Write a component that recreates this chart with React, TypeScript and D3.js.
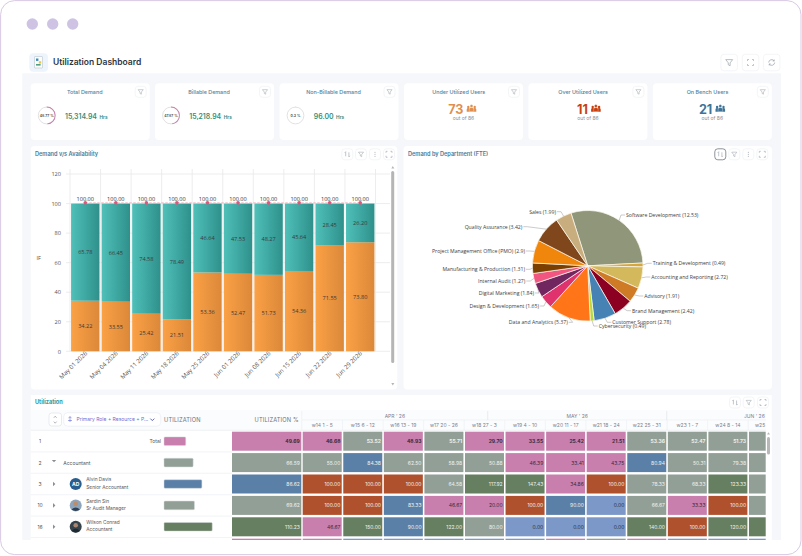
import { useEffect, useRef } from "react";
import {
  arc,
  axisBottom,
  axisLeft,
  line,
  pie,
  scaleBand,
  scaleLinear,
  scaleOrdinal,
  scaleThreshold,
  select,
} from "d3";

// bar chart
const periods = [
  "May 01 2026",
  "May 04 2026",
  "May 11 2026",
  "May 18 2026",
  "May 25 2026",
  "Jun 01 2026",
  "Jun 08 2026",
  "Jun 15 2026",
  "Jun 22 2026",
  "Jun 29 2026",
];
const demand = [34.22, 33.55, 25.42, 21.51, 53.36, 52.47, 51.73, 54.36, 71.55, 73.8];
const availability = [65.78, 66.45, 74.58, 78.49, 46.64, 47.53, 48.27, 45.64, 28.45, 26.2];
const totals = [100, 100, 100, 100, 100, 100, 100, 100, 100, 100];
const yTicks = [0, 20, 40, 60, 80, 100, 120];

// pie chart
const departments = [
  "Software Development",
  "Training & Development",
  "Accounting and Reporting",
  "Advisory",
  "Brand Management",
  "Customer Support",
  "Cybersecurity",
  "Data and Analytics",
  "Design & Development",
  "Digital Marketing",
  "Internal Audit",
  "Manufacturing & Production",
  "Project Management Office (PMO)",
  "Quality Assurance",
  "Sales",
];
const fte = [12.53, 0.49, 2.72, 1.91, 2.42, 2.78, 0.49, 5.37, 1.65, 1.84, 1.27, 1.31, 2.9, 3.42, 1.99];
const deptColors = [
  "#8f9679", "#d6a63c", "#d4b85c", "#cf7a24", "#8c0021",
  "#4682b4", "#b8d93a", "#ff7518", "#e0336e", "#722660",
  "#f0567f", "#7b3f00", "#f0860c", "#80471c", "#c8ad7f",
];

// kpi cards
const kpiTitles = ["Total Demand", "Billable Demand", "Non-Billable Demand"];
const kpiHours = ["15,314.94", "15,218.94", "96.00"];
const kpiPercent = [48.77, 47.87, 0.3];
const userTitles = ["Under Utilized Users", "Over Utilized Users", "On Bench Users"];
const userCounts = [73, 11, 21];
const userColors = ["#e08f4f", "#c8400f", "#3f7499"];

// utilization table
const weeks = [
  "w14 1 - 5", "w15 6 - 12", "w16 13 - 19", "w17 20 - 26", "w18 27 - 3", "w19 4 - 10",
  "w20 11 - 17", "w21 18 - 24", "w22 25 - 31", "w23 1 - 7", "w24 8 - 14", "w25 15 - 21",
];
const months = ["APR ' 26", "MAY ' 26", "JUN ' 26"];
const rowNumbers = ["1", "2", "3", "10", "16", ""];
const overall = [49.69, 66.59, 86.62, 69.62, 110.23, 40];
const totalWeeks = [46.68, 53.52, 48.93, 55.71, 29.7, 33.55, 25.42, 21.51, 53.36, 52.47, 51.73, 54.36];
const accountantWeeks = [55, 84.38, 62.5, 58.98, 50.88, 46.39, 33.41, 43.75, 80.94, 50.31, 79.38, 62.5];
const alvinWeeks = [100, 100, 100, 64.58, 117.92, 147.43, 34.86, 100, 78.33, 68.33, 123.33, 60];
const sardinWeeks = [100, 100, 83.33, 46.67, 20, 100, 90, 0, 66.67, 33.33, 100, 66.67];
const wilsonWeeks = [46.67, 150, 90, 122, 80, 0, 0, 0, 140, 100, 120, 130];
const nextWeeks = [40, 0, 0, 0, 0, 0, 40, 60, 40, 0, 0, 0];
const weekRows = [totalWeeks, accountantWeeks, alvinWeeks, sardinWeeks, wilsonWeeks, nextWeeks];

const SANS = "Inter, 'Noto Sans', sans-serif";
const LABEL = "'Open Sans', sans-serif";
const ICON = "#98a0a9";

const utilColor = scaleThreshold<number, string>()
  .domain([0.01, 50, 80.01, 100, 100.01])
  .range(["#7b98c8", "#c87fae", "#929f96", "#5b80a8", "#b0512e", "#667f60"]);
const utilText = scaleThreshold<number, string>()
  .domain([0.01, 50, 80.01])
  .range(["#2b3340", "#3a2a38", "#eef1ee", "#eef1ee"]);

function Funnel({ x, y, s = 1 }: { x: number; y: number; s?: number }) {
  return (
    <path
      transform={`translate(${x},${y}) scale(${s})`}
      d="M-3 -2.5H3L0.8 0.3V2.8L-0.8 2V0.3Z"
      fill="none"
      stroke={ICON}
      strokeWidth={0.6}
    />
  );
}

function Expand({ x, y }: { x: number; y: number }) {
  return (
    <path
      transform={`translate(${x},${y})`}
      d="M-3 -1.5V-3H-1.5M1.5 -3H3V-1.5M3 1.5V3H1.5M-1.5 3H-3V1.5"
      fill="none"
      stroke={ICON}
      strokeWidth={0.6}
    />
  );
}

function Sort({ x, y }: { x: number; y: number }) {
  return (
    <path
      transform={`translate(${x},${y})`}
      d="M-1.6 -2.6V2M-2.6 -1.6L-1.6 -2.6M1.6 2.6V-2M2.6 1.6L1.6 2.6"
      fill="none"
      stroke={ICON}
      strokeWidth={0.6}
    />
  );
}

function Dots({ x, y }: { x: number; y: number }) {
  return (
    <g fill={ICON}>
      {[-2, 0, 2].map((d) => (
        <circle key={d} cx={x} cy={y + d} r={0.5} />
      ))}
    </g>
  );
}

function IconBox({ cx, cy, w = 11, h = 11, stroke = "#eef0f4" }: { cx: number; cy: number; w?: number; h?: number; stroke?: string }) {
  return <rect x={cx - w / 2} y={cy - h / 2} width={w} height={h} rx={3} fill="#fff" stroke={stroke} strokeWidth={0.7} />;
}

function People({ x, y, color }: { x: number; y: number; color: string }) {
  return (
    <g transform={`translate(${x},${y})`} fill={color}>
      <circle cx={-3.2} cy={-1.4} r={1.2} />
      <circle cx={3.2} cy={-1.4} r={1.2} />
      <path d="M-4.8 3.4V1Q-4.8 -0.3 -3.2 -0.3Q-1.6 -0.3 -1.6 1V3.4ZM4.8 3.4V1Q4.8 -0.3 3.2 -0.3Q1.6 -0.3 1.6 1V3.4Z" />
      <circle cx={0} cy={-2.4} r={1.5} stroke="#fff" strokeWidth={0.3} />
      <path d="M-2.2 3.4V0.6Q-2.2 -0.9 0 -0.9Q2.2 -0.9 2.2 0.6V3.4Z" stroke="#fff" strokeWidth={0.3} />
    </g>
  );
}

function Card({ x, children }: { x: number; children: any }) {
  return (
    <g>
      <rect x={x} y={83.3} width={119} height={56.7} rx={4} fill="#fff" />
      <IconBox cx={x + 110} cy={91.8} />
      <Funnel x={x + 110} y={91.8} s={0.85} />
      {children}
    </g>
  );
}

function KpiCards() {
  const ring = arc();
  const xs = [30.7, 155, 279.5];
  return (
    <>
      {kpiTitles.map((title, i) => (
        <Card key={title} x={xs[i]}>
          <text x={xs[i] + 54} y={93.6} textAnchor="middle" fontSize={5.4} fontWeight={500} fill="#4f7f9c">
            {title}
          </text>
          <circle cx={xs[i] + 16} cy={115.5} r={8.4} fill="none" stroke="#d9d9d9" strokeWidth={0.8} />
          <path
            transform={`translate(${xs[i] + 16},115.5)`}
            d={ring({ innerRadius: 8, outerRadius: 8.9, startAngle: 0, endAngle: (kpiPercent[i] / 100) * 2 * Math.PI }) ?? ""}
            fill="#c87fae"
          />
          <text x={xs[i] + 16} y={116.8} textAnchor="middle" fontSize={3.5} fontWeight={600} fill="#3b3f46">
            {kpiPercent[i]} %
          </text>
          <text x={xs[i] + 34.3} y={118.8} fontSize={6.9} fontWeight={600} fill="#2f8f7a">
            {kpiHours[i]}
            <tspan dx={2.6} fontSize={4.8} fill="#3a8576">
              Hrs
            </tspan>
          </text>
        </Card>
      ))}
      {userTitles.map((title, i) => {
        const x = 404 + i * 124.4;
        return (
          <Card key={title} x={x}>
            <text x={x + 54.7} y={93.6} textAnchor="middle" fontSize={5.4} fontWeight={500} fill="#4f7f9c">
              {title}
            </text>
            <text x={x + 59.5} y={113.6} textAnchor="end" fontSize={12.6} fontWeight={700} fill={userColors[i]}>
              {userCounts[i]}
            </text>
            <People x={x + 67.5} y={108.4} color={userColors[i]} />
            <text x={x + 59.5} y={120} textAnchor="middle" fontSize={5} fill="#8b8f96">
              out of 86
            </text>
          </Card>
        );
      })}
    </>
  );
}

function DemandChart() {
  const xRef = useRef<SVGGElement>(null);
  const yRef = useRef<SVGGElement>(null);
  const y = scaleLinear().domain([0, 120]).range([351.3, 174]);
  const x = scaleBand().domain(periods).range([70, 375.5]).paddingInner(0.07).paddingOuter(0.035);
  const bw = x.bandwidth();
  const step = x.step();

  useEffect(() => {
    if (yRef.current) {
      const g = select(yRef.current).call(axisLeft(y).tickValues(yTicks).tickSize(0).tickPadding(5) as any);
      g.select(".domain").remove();
      g.selectAll("text").attr("font-size", 5.6).attr("font-family", LABEL).attr("fill", "#555");
    }
    if (xRef.current) {
      const g = select(xRef.current).call(axisBottom(x).tickSize(0).tickPadding(3) as any);
      g.select(".domain").remove();
      g.selectAll("text")
        .attr("font-size", 6.2)
        .attr("font-family", LABEL)
        .attr("fill", "#555")
        .attr("text-anchor", "end")
        .attr("dy", "0.3em")
        .attr("transform", "rotate(-45) translate(0,-1.5)");
    }
  }, []);

  const dashed = line<number>()
    .x((_, i) => (x(periods[i]) as number) + bw / 2)
    .y((d) => y(d) - 0.7);

  return (
    <g>
      <defs>
        <linearGradient id="tealFill">
          <stop offset="0" stopColor="#4fc0b9" />
          <stop offset="1" stopColor="#2f908b" />
        </linearGradient>
        <linearGradient id="orangeFill">
          <stop offset="0" stopColor="#fba146" />
          <stop offset="1" stopColor="#db8839" />
        </linearGradient>
      </defs>
      {yTicks.map((t) => (
        <line key={t} x1={66} x2={390} y1={y(t)} y2={y(t)} stroke="#e9e9e9" strokeWidth={0.8} />
      ))}
      {[...periods, ""].map((p, i) => (
        <line key={i} x1={70 + i * step} x2={70 + i * step} y1={169} y2={351.3} stroke="#e9e9e9" strokeWidth={0.8} />
      ))}
      <g ref={yRef} transform="translate(66,0)" />
      <g ref={xRef} transform="translate(0,351.3)" />
      <text x={36.5} y={260} fontSize={5.6} fontFamily={LABEL} fill="#555">
        IF
      </text>
      {periods.map((p, i) => {
        const left = x(p) as number;
        return (
          <g key={p} fontFamily={LABEL} fontSize={5.6} textAnchor="middle" fill="#3a3a3a">
            <rect x={left} y={y(demand[i])} width={bw} height={y(0) - y(demand[i])} fill="url(#orangeFill)" />
            <rect x={left} y={y(100)} width={bw} height={y(demand[i]) - y(100)} fill="url(#tealFill)" />
            <text x={left + bw / 2} y={y(demand[i] / 2) + 2}>
              {demand[i].toFixed(2)}
            </text>
            <text x={left + bw / 2} y={y(demand[i] + availability[i] / 2) + 2}>
              {availability[i].toFixed(2)}
            </text>
            <text x={left + bw / 2} y={y(totals[i]) - 2.6}>
              {totals[i].toFixed(2)}
            </text>
          </g>
        );
      })}
      <path d={dashed(totals) ?? ""} fill="none" stroke="#f0a3b4" strokeWidth={0.8} strokeDasharray="2.5 1.5" />
      {periods.map((p, i) => (
        <circle key={p} cx={(x(p) as number) + bw / 2} cy={y(totals[i]) - 0.7} r={1.8} fill="#e0557a" />
      ))}
      {/* scrollbar */}
      <rect x={391.2} y={171} width={3} height={192} rx={1.5} fill="#b5b5b5" />
      <path d="M391.3 168.5L392.8 166L394.3 168.5Z" fill="#b5b5b5" />
      <path d="M391.3 383L392.8 385.5L394.3 383Z" fill="#b5b5b5" />
    </g>
  );
}

// where each pie label sits, highcharts pushes them around so they do not follow the arc
const labelSpots: Record<string, [number, number]> = {
  "Software Development": [626, 215],
  "Training & Development": [652.7, 263.3],
  "Accounting and Reporting": [651.3, 277],
  Advisory: [644.3, 296],
  "Brand Management": [632, 310.7],
  "Customer Support": [612.3, 322.3],
  Cybersecurity: [598.7, 326],
  "Data and Analytics": [567.7, 322.3],
  "Design & Development": [539, 306],
  "Digital Marketing": [534, 293],
  "Internal Audit": [525.3, 281],
  "Manufacturing & Production": [525, 269.3],
  "Project Management Office (PMO)": [525, 251],
  "Quality Assurance": [522.3, 226.7],
  Sales: [556, 211.7],
};

function DepartmentPie() {
  const cx = 587.7;
  const cy = 265.8;
  const radius = 55.3;
  const start = (-17.6 * Math.PI) / 180;
  const slices = pie<number>().sort(null).startAngle(start).endAngle(start + 2 * Math.PI)(fte);
  const color = scaleOrdinal<string, string>().domain(departments).range(deptColors);
  const slice = arc<any>().innerRadius(0).outerRadius(radius);
  const edge = arc<any>().innerRadius(radius).outerRadius(radius);

  return (
    <g>
      {slices.map((s, i) => (
        <path
          key={departments[i]}
          transform={`translate(${cx},${cy})`}
          d={slice(s) ?? ""}
          fill={color(departments[i])}
          stroke="#fdfaf0"
          strokeWidth={0.7}
        />
      ))}
      {slices.map((s, i) => {
        const name = departments[i];
        const [lx, ly] = labelSpots[name];
        const [ex, ey] = edge.centroid(s);
        const right = lx > cx;
        return (
          <g key={name}>
            <polyline
              points={`${cx + ex},${cy + ey} ${lx + (right ? -5 : 5)},${ly} ${lx + (right ? -1 : 1)},${ly}`}
              fill="none"
              stroke="#a8a8a8"
              strokeWidth={0.6}
            />
            <text
              x={lx}
              y={ly + 2}
              textAnchor={right ? "start" : "end"}
              fontFamily={LABEL}
              fontSize={5.15}
              fill="#3d3d3d"
            >
              {name} ({fte[i]})
            </text>
          </g>
        );
      })}
    </g>
  );
}

function Avatar({ row, cy }: { row: number; cy: number }) {
  const cx = 75.7;
  if (row === 2) {
    return (
      <g>
        <circle cx={cx} cy={cy} r={6} fill="#2a5d8f" />
        <text x={cx} y={cy + 1.9} textAnchor="middle" fontSize={5} fontWeight={700} fill="#fff">
          AD
        </text>
      </g>
    );
  }
  const bg = row === 3 ? "#8ea4bb" : "#36434a";
  const skin = row === 3 ? "#b98d6e" : "#a98670";
  const coat = row === 3 ? "#2f3f55" : "#1d2a33";
  return (
    <g>
      <circle cx={cx} cy={cy} r={6} fill={bg} />
      <circle cx={cx} cy={cy - 1.5} r={2.3} fill={skin} />
      <path d={`M${cx - 4.2} ${cy + 4.2}Q${cx} ${cy - 0.2} ${cx + 4.2} ${cy + 4.2}Q${cx} ${cy + 7} ${cx - 4.2} ${cy + 4.2}Z`} fill={coat} />
    </g>
  );
}

function UtilizationTable() {
  const x = scaleBand().domain(weeks).range([302.7, 302.7 + 11 * 40.57 + 39]).paddingInner(0.0387).paddingOuter(0);
  const rows = scaleBand<number>().domain([0, 1, 2, 3, 4, 5]).range([431.7, 557.7]).paddingInner(0.112).paddingOuter(0);
  const barW = scaleLinear().domain([0, 120]).range([0, 52.5]);
  const h = rows.bandwidth();
  const monthEdges = [302, 487.7, 666.7, 842];
  const names = [
    ["Alvin Davis", "Senior Accountant"],
    ["Sardin Sin", "Sr Audit Manager"],
    ["Wilson Conrad", "Accountant"],
  ];

  return (
    <g>
      <defs>
        <clipPath id="tableClip">
          <rect x={30.7} y={405} width={735} height={135} />
        </clipPath>
      </defs>
      <text x={35} y={404.4} fontSize={5.6} fontWeight={700} fill="#2a9aa0">
        Utilization
      </text>
      <g clipPath="url(#tableClip)">
        <rect x={30.7} y={410} width={741} height={20} fill="#fbfcfd" />
        <rect x={49} y={413} width={12.5} height={13} rx={2.5} fill="#fff" stroke="#dfe3ea" strokeWidth={0.7} />
        <path d="M53.8 417.8L55.2 416.2L56.6 417.8M53.8 421.6L55.2 423.2L56.6 421.6" fill="none" stroke="#7c8590" strokeWidth={0.6} />
        <rect x={63.7} y={412.7} width={97} height={13.5} rx={4} fill="#fff" stroke="#e9ecf4" strokeWidth={0.7} />
        <path d="M70 417V422M68 420.5H72M68.6 418.2L70 416.4L71.4 418.2" fill="none" stroke="#6a6fd8" strokeWidth={0.6} />
        <text x={76.5} y={421.3} fontSize={5} fill="#6a6fd8">
          Primary Role + Resource + P...
        </text>
        <path d="M150.3 418.6L152.3 420.6L154.3 418.6" fill="none" stroke="#4d52b8" strokeWidth={0.9} />
        <text x={164} y={421.6} fontSize={5.7} fill="#6d7480" letterSpacing={0.15}>
          UTILIZATION
        </text>
        <text x={298.7} y={421.6} textAnchor="end" fontSize={5.7} fill="#6d7480" letterSpacing={0.15}>
          UTILIZATION %
        </text>
        <line x1={301.8} x2={301.8} y1={411} y2={430} stroke="#eceff3" strokeWidth={0.7} />
        <line x1={302} x2={771} y1={420} y2={420} stroke="#eceff3" strokeWidth={0.7} />
        <line x1={30.7} x2={771} y1={430.3} y2={430.3} stroke="#e8ebef" strokeWidth={0.7} />
        {months.map((m, i) => (
          <g key={m}>
            <text x={(monthEdges[i] + monthEdges[i + 1]) / 2} y={417.6} textAnchor="middle" fontSize={5} fill="#7b8290">
              {m}
            </text>
            <line x1={monthEdges[i + 1]} x2={monthEdges[i + 1]} y1={411} y2={420} stroke="#e3e6ea" strokeWidth={0.7} />
          </g>
        ))}
        {weeks.map((w) => (
          <g key={w}>
            <text x={(x(w) as number) + x.bandwidth() / 2} y={427} textAnchor="middle" fontSize={5} fill="#7b8290">
              {w}
            </text>
            <line
              x1={(x(w) as number) + x.bandwidth() + 0.8}
              x2={(x(w) as number) + x.bandwidth() + 0.8}
              y1={420}
              y2={430}
              stroke="#eceff3"
              strokeWidth={0.7}
            />
          </g>
        ))}
        {weekRows.map((vals, r) => {
          const top = rows(r) as number;
          const mid = top + h / 2;
          const weight = r === 0 ? 700 : 400;
          return (
            <g key={r}>
              <line x1={30.7} x2={232} y1={top + h + 1.2} y2={top + h + 1.2} stroke="#eceff3" strokeWidth={0.7} />
              <text x={40} y={mid + 1.9} textAnchor="middle" fontSize={5} fill="#555">
                {rowNumbers[r]}
              </text>
              <rect x={164} y={mid - 4.3} width={barW(overall[r])} height={8.6} rx={1} fill={utilColor(overall[r])} stroke="#d5d8dc" strokeWidth={0.5} />
              <rect x={232} y={top} width={69.3} height={h} fill={utilColor(overall[r])} />
              <text x={299.8} y={mid + 1.9} textAnchor="end" fontSize={5} fontWeight={weight} fill={utilText(overall[r])}>
                {overall[r].toFixed(2)}
              </text>
              {vals.map((v, c) => (
                <g key={weeks[c]}>
                  <rect x={x(weeks[c])} y={top} width={x.bandwidth()} height={h} fill={utilColor(v)} />
                  <text
                    x={(x(weeks[c]) as number) + x.bandwidth() - 1.3}
                    y={mid + 1.9}
                    textAnchor="end"
                    fontSize={5}
                    fontWeight={weight}
                    fill={utilText(v)}
                  >
                    {v.toFixed(2)}
                  </text>
                </g>
              ))}
            </g>
          );
        })}
        <text x={161} y={(rows(0) as number) + h / 2 + 1.9} textAnchor="end" fontSize={5} fill="#555">
          Total
        </text>
        <path d={`M51.8 ${(rows(1) as number) + 6.8}H56.2L54 ${(rows(1) as number) + 9.2}Z`} fill="#8a8f96" />
        <text x={63.3} y={(rows(1) as number) + h / 2 + 1.9} fontSize={5} fill="#555">
          Accountant
        </text>
        {names.map(([name, role], i) => {
          const mid = (rows(i + 2) as number) + h / 2;
          return (
            <g key={name}>
              <path d={`M53 ${mid - 2.3}L55.4 ${mid}L53 ${mid + 2.3}Z`} fill="#8a8f96" />
              <Avatar row={i + 2} cy={mid} />
              <text x={86.3} y={mid - 2.7} fontSize={4.8} fill="#555">
                {name}
              </text>
              <text x={86.3} y={mid + 4.6} fontSize={4.8} fill="#555">
                {role}
              </text>
            </g>
          );
        })}
      </g>
      {/* scrollbar */}
      <rect x={766.5} y={431} width={5} height={109} fill="#fff" />
      <rect x={767} y={437} width={3} height={17.5} rx={1.5} fill="#b8b8b8" />
      <path d="M767 434.5L768.5 432.3L770 434.5Z" fill="#b8b8b8" />
    </g>
  );
}

export default function App() {
  const kpiIcons = [729.2, 750.5, 771.7];
  return (
    <svg width={802} height={556} style={{ position: "absolute", left: 0, top: 0 }} fontFamily={SANS}>
      <rect x={0.6} y={0.6} width={800.4} height={554} rx={14} fill="#fff" stroke="#d9c9e4" strokeWidth={1} />
      {[32.3, 52.7, 72.7].map((cx) => (
        <circle key={cx} cx={cx} cy={24} r={5.7} fill="#cfc3e3" />
      ))}

      {/* page header */}
      <rect x={29.3} y={53.3} width={18.7} height={18.4} rx={4} fill="#eef4fb" />
      <rect x={34.5} y={56.5} width={8} height={11.5} rx={0.6} fill="#fdfdf5" stroke="#9aa7b5" strokeWidth={0.4} />
      <rect x={36} y={58.5} width={2.4} height={2.4} fill="#3b8bc2" />
      <rect x={38.8} y={61.2} width={2.4} height={2.4} fill="#e8c84a" />
      <rect x={36} y={64} width={4.6} height={1.6} fill="#4f9e86" />
      <text x={53} y={65.2} fontSize={8.5} fontWeight={600} fill="#2e3440">
        Utilization Dashboard
      </text>
      {kpiIcons.map((cx) => (
        <IconBox key={cx} cx={cx} cy={62.5} w={16.5} h={16.5} />
      ))}
      <Funnel x={729.2} y={62.5} s={1.15} />
      <Expand x={750.5} y={62.5} />
      <path d="M768.7 62.5A3 3 0 0 1 774.2 61M774.7 62.5A3 3 0 0 1 769.2 64M774.2 59.5V61H772.7M769.2 65.5V64H770.7" fill="none" stroke={ICON} strokeWidth={0.7} />

      {/* dashboard body */}
      <rect x={22.3} y={73.3} width={758.7} height={466.7} fill="#f5f7fa" />
      <KpiCards />

      <rect x={30.7} y={146} width={366.6} height={243.5} rx={4} fill="#fff" />
      <text x={35} y={156} fontSize={5.6} fontWeight={600} fill="#3f7a9c">
        Demand v/s Availability
      </text>
      <DemandChart />
      {[347.3, 361, 375, 389].map((cx) => (
        <IconBox key={cx} cx={cx} cy={154.3} />
      ))}
      <Sort x={347.3} y={154.3} />
      <Funnel x={361} y={154.3} s={0.85} />
      <Dots x={375} y={154.3} />
      <Expand x={389} y={154.3} />

      <rect x={403.5} y={146} width={368.5} height={243.5} rx={4} fill="#fff" />
      <text x={408} y={156} fontSize={5.6} fontWeight={600} fill="#3f7a9c">
        Demand by Department (FTE)
      </text>
      <IconBox cx={720.3} cy={154.3} stroke="#5d6570" />
      <Sort x={720.3} y={154.3} />
      {[734.3, 748.3, 762.3].map((cx) => (
        <IconBox key={cx} cx={cx} cy={154.3} />
      ))}
      <Funnel x={734.3} y={154.3} s={0.85} />
      <Dots x={748.3} y={154.3} />
      <Expand x={762.3} y={154.3} />
      <DepartmentPie />

      <rect x={30.7} y={395} width={741} height={145} fill="#fff" />
      <UtilizationTable />
      {[735, 748.7, 763].map((cx) => (
        <IconBox key={cx} cx={cx} cy={402.5} />
      ))}
      <Sort x={735} y={402.5} />
      <Funnel x={748.7} y={402.5} s={0.85} />
      <Expand x={763} y={402.5} />
    </svg>
  );
}
